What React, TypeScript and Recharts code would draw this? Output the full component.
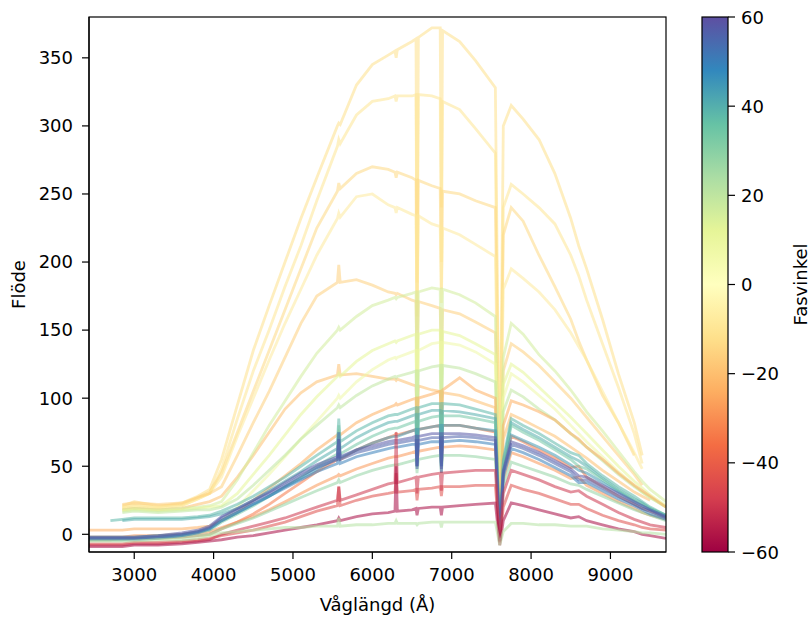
import { Label, Line, LineChart, XAxis, YAxis } from "recharts";

// wavelength grid (Å) shared by every spectrum
const WAVELENGTHS = [
  2430, 2700, 2850, 3000, 3300, 3600, 3800, 3950, 4100, 4300,
  4500, 4700, 4900, 5100, 5300, 5560, 5577, 5595, 5800, 6000,
  6200, 6285, 6300, 6315, 6500, 6550, 6563, 6580, 6750, 6855,
  6870, 6885, 7100, 7300, 7550, 7605, 7650, 7750, 7900, 8100,
  8300, 8500, 8600, 8700, 8900, 9100, 9300, 9400, 9500, 9700,
];

// flux per spectrum
const Y1 = [null, null, 20, 22, 20, 23, 28, 33, 55, 95, 135, 168, 200, 232, 262, 300, 302, 301, 330, 345, 352, 355, 350, 356, 362, 364, 185, 365, 372, 372, 240, 370, 362, 348, 328, 20, 300, 315, 305, 290, 265, 232, 212, 195, 158, 118, 82, 58, null, null];
const Y2 = [null, null, 19, 20, 19, 21, 26, 30, 48, 85, 120, 150, 182, 212, 245, 285, 290, 287, 308, 318, 320, 322, 318, 322, 322, 323, 170, 323, 322, 320, 200, 318, 312, 298, 280, 18, 240, 257, 250, 240, 228, 205, 190, 172, 140, 108, 74, 52, null, null];
const Y3 = [null, null, 21, 24, 21, 22, 27, 31, 45, 75, 105, 135, 165, 195, 225, 252, 258, 254, 265, 270, 268, 266, 262, 266, 262, 260, 160, 260, 256, 254, 180, 252, 250, 245, 240, 15, 220, 240, 230, 205, 182, 158, 142, 128, 102, 82, 58, null, null, null];
const Y4 = [null, null, 20, 21, 20, 21, 26, 30, 42, 72, 100, 128, 155, 180, 205, 232, 236, 233, 248, 250, 242, 240, 236, 240, 235, 234, 150, 234, 228, 226, 170, 225, 220, 213, 204, 14, 180, 195, 188, 178, 165, 148, 138, 128, 105, 82, 60, 48, null, null];
const Y5 = [null, null, 22, 23, 22, 23, 27, 30, 35, 58, 82, 105, 130, 155, 175, 185, 198, 185, 187, 183, 178, 177, 176, 177, 172, 171, 120, 171, 168, 166, 125, 165, 162, 156, 148, 12, 120, 140, 134, 124, 112, 100, 93, 86, 72, 58, 44, 36, null, null];
const Y6 = [null, null, 18, 19, 18, 19, 22, 24, 28, 42, 58, 75, 92, 104, 112, 117, 125, 117, 118, 116, 114, 114, 113, 114, 110, 109, 85, 109, 106, 105, 88, 104, 102, 98, 93, 10, 70, 88, 84, 78, 72, 64, 60, 56, 47, 39, 31, 28, 25, null];
const G1 = [null, null, 18, 19, 18, 19, 20, 21, 24, 40, 60, 80, 98, 116, 133, 150, 152, 150, 160, 168, 172, 174, 173, 174, 177, 178, 95, 178, 181, 180, 100, 180, 176, 170, 160, 10, 130, 155, 147, 132, 120, 106, 98, 90, 76, 61, 46, 39, 33, 24];
const G2 = [null, null, 17, 18, 17, 18, 19, 20, 21, 30, 44, 58, 73, 88, 101, 116, 118, 116, 127, 135, 140, 142, 141, 142, 146, 147, 80, 147, 150, 150, 90, 149, 146, 140, 132, 8, 110, 125, 119, 108, 97, 86, 80, 74, 62, 50, 39, 34, 29, 21];
const G3 = [-2, -2, -2, -2, -1, 0, 2, 5, 10, 20, 32, 44, 57, 70, 83, 100, 102, 100, 112, 121, 128, 130, 129, 130, 134, 135, 90, 135, 140, 141, 95, 141, 139, 134, 125, 8, 100, 118, 112, 102, 92, 80, 74, 68, 57, 46, 36, 31, 27, 20];
const G4 = [null, null, 16, 17, 16, 17, 18, 18, 20, 26, 36, 47, 58, 70, 80, 93, 95, 93, 102, 109, 114, 116, 115, 116, 119, 120, 70, 120, 123, 124, 75, 124, 122, 118, 112, 6, 90, 106, 101, 92, 84, 74, 69, 64, 54, 44, 35, 31, 27, 20];
const O1 = [3, 3, 3, 4, 4, 4, 5, 6, 10, 16, 25, 34, 43, 52, 62, 73, 75, 73, 82, 88, 93, 95, 96, 95, 99, 100, 75, 100, 103, 105, 80, 106, 115, 106, 100, 5, 80, 98, 95, 90, 84, 74, 70, 64, 55, 45, 36, 32, 28, 20];
const O2 = [-4, -4, -3, -3, -3, -2, -1, 0, 4, 9, 15, 22, 30, 38, 46, 55, 57, 55, 62, 67, 71, 73, 74, 73, 76, 77, 60, 77, 79, 80, 62, 80, 80, 78, 75, 0, 50, 72, 68, 62, 56, 49, 50, 42, 35, 28, 22, 19, 17, 13];
const O3 = [-2, -2, -2, -1, -1, 0, 1, 2, 5, 9, 13, 18, 24, 30, 36, 43, 44, 43, 48, 52, 56, 57, 57, 57, 60, 61, 50, 61, 63, 64, 52, 64, 65, 64, 62, -2, 40, 60, 57, 52, 47, 41, 42, 36, 30, 24, 19, 16, 14, 11];
const T1 = [null, 10, 11, 12, 12, 12, 13, 14, 17, 22, 28, 35, 42, 50, 58, 68, 85, 68, 76, 82, 87, 88, 88, 88, 92, 93, 55, 93, 96, 96, 55, 96, 95, 92, 88, -3, 55, 85, 80, 74, 67, 60, 58, 52, 43, 35, 28, 24, 20, 14];
const T2 = [-3, -3, -3, -3, -2, -1, 1, 3, 9, 15, 21, 28, 35, 42, 50, 59, 80, 59, 66, 72, 77, 78, 78, 78, 82, 83, 60, 83, 86, 87, 60, 87, 87, 85, 82, -3, 50, 80, 75, 69, 62, 55, 50, 48, 40, 32, 25, 22, 19, 14];
const T3 = [-2, -2, -2, -2, -1, 0, 2, 4, 10, 16, 22, 28, 35, 41, 48, 56, 70, 56, 62, 67, 71, 72, 72, 72, 76, 77, 50, 77, 79, 80, 50, 80, 80, 78, 76, -4, 45, 73, 69, 64, 58, 51, 47, 45, 38, 31, 24, 21, 18, 13];
const T4 = [null, null, 10, 11, 11, 11, 12, 13, 15, 19, 25, 32, 39, 46, 54, 63, 75, 63, 71, 77, 82, 83, 83, 83, 87, 88, 58, 88, 91, 91, 58, 91, 90, 88, 85, -3, 52, 82, 77, 71, 64, 57, 54, 50, 41, 33, 26, 23, 19, 14];
const C1 = [-4, -4, -4, -3, -3, -2, -1, 0, 4, 8, 12, 17, 22, 27, 32, 38, 40, 38, 43, 47, 50, 51, 51, 51, 54, 55, 45, 55, 57, 58, 45, 58, 58, 57, 55, -3, 35, 53, 50, 46, 42, 37, 36, 33, 28, 23, 18, 16, 14, 10];
const B1 = [-3, -3, -3, -3, -2, 0, 2, 5, 12, 18, 24, 30, 36, 43, 49, 55, 75, 55, 60, 63, 66, 67, 67, 67, 69, 69, 48, 69, 71, 71, 45, 71, 72, 71, 69, -5, 45, 66, 63, 58, 52, 46, 40, 40, 34, 28, 22, 19, 17, 12];
const B2 = [-4, -4, -4, -4, -3, -1, 1, 4, 10, 16, 22, 28, 34, 40, 46, 52, 60, 52, 57, 60, 63, 64, 64, 64, 66, 66, 50, 66, 68, 68, 50, 68, 69, 68, 66, -5, 42, 63, 60, 55, 49, 43, 38, 38, 32, 26, 21, 18, 15, 11];
const B3 = [-2, -2, -2, -2, -1, 1, 3, 6, 13, 19, 25, 31, 38, 45, 51, 57, 70, 57, 62, 65, 68, 69, 69, 69, 71, 72, 50, 72, 74, 74, 48, 74, 74, 73, 71, -4, 47, 68, 65, 60, 54, 48, 43, 42, 36, 30, 24, 21, 18, 13];
const R1 = [-8, -8, -8, -7, -7, -6, -5, -4, 0, 3, 6, 9, 12, 16, 20, 25, 35, 25, 29, 33, 37, 38, 75, 38, 41, 42, 30, 42, 44, 45, 32, 45, 46, 47, 47, -5, 30, 47, 44, 40, 35, 31, 32, 28, 22, 16, 11, 9, 7, 5];
const R2 = [-7, -7, -7, -6, -6, -5, -4, -3, -1, 1, 3, 6, 9, 13, 17, 21, 35, 21, 25, 28, 30, 31, 45, 31, 32, 33, 25, 33, 34, 35, 28, 35, 35, 36, 36, -6, 20, 36, 33, 30, 26, 22, 22, 19, 14, 10, 7, 5, 4, 3];
const R3 = [-9, -9, -9, -8, -8, -7, -6, -5, -4, -2, -1, 1, 3, 5, 7, 10, 12, 10, 13, 15, 16, 17, 50, 17, 18, 19, 14, 19, 20, 20, 14, 20, 21, 22, 23, -8, 10, 23, 21, 18, 15, 12, 13, 10, 7, 4, 2, 0, -1, -3];
const L1 = [-5, -5, -5, -5, -4, -4, -3, -1, 1, 2, 3, 4, 5, 5, 6, 6, 12, 6, 7, 7, 8, 8, 10, 8, 8, 8, 7, 8, 9, 9, 5, 9, 9, 9, 9, -8, 2, 8, 8, 7, 7, 6, 6, 6, 4, 3, 2, 1, 1, 0];

const SPECTRA = [Y1, Y2, Y3, Y4, Y5, Y6, G1, G2, G3, G4, O1, O3, O2, C1, T1, T4, T2, T3, B2, B1, B3, R2, R1, R3, L1];
// phase angle (Fasvinkel) of each spectrum, same order
const PHASES = [-12, -10, -14, -8, -16, -20, 16, 12, 8, 20, -24, -28, -34, 28, 38, 40, 34, 44, 50, 56, 58, -44, -50, -58, 22];

const X_TICKS = [3000, 4000, 5000, 6000, 7000, 8000, 9000];
const Y_TICKS = [0, 50, 100, 150, 200, 250, 300, 350];
const CB_TICKS = [60, 40, 20, 0, -20, -40, -60];

// matplotlib "Spectral"
const SPECTRAL = ["#9e0142", "#d53e4f", "#f46d43", "#fdae61", "#fee08b", "#ffffbf", "#e6f598", "#abdda4", "#66c2a5", "#3288bd", "#5e4fa2"];

function spectral(phase: number) {
  const t = Math.min(1, Math.max(0, (phase + 60) / 120)) * 10;
  const i = Math.min(9, Math.floor(t));
  const f = t - i;
  const a = SPECTRAL[i], b = SPECTRAL[i + 1];
  const ch = (c: string, k: number) => parseInt(c.slice(1 + k * 2, 3 + k * 2), 16);
  const mix = [0, 1, 2].map((k) => Math.round(ch(a, k) + (ch(b, k) - ch(a, k)) * f));
  return `rgb(${mix.join(",")})`;
}

const FONT = "'DejaVu Sans', sans-serif";
const LEFT = 89, TOP = 17, RIGHT = 666, BOTTOM = 552;

function Overlay() {
  const x = 702, w = 26, h = BOTTOM - TOP;
  return (
    <svg width={811} height={617} style={{ position: "absolute", left: 0, top: 0, pointerEvents: "none" }}>
      <defs>
        <linearGradient id="cb" x1="0" y1="1" x2="0" y2="0">
          {SPECTRAL.map((c, i) => (
            <stop key={i} offset={`${i * 10}%`} stopColor={c} />
          ))}
        </linearGradient>
      </defs>
      {/* axes frame */}
      <rect x={LEFT} y={TOP} width={RIGHT - LEFT} height={h} fill="none" stroke="#000" strokeWidth={1.2} />
      <rect x={x} y={TOP} width={w} height={h} fill="url(#cb)" stroke="#000" strokeWidth={1.2} />
      {CB_TICKS.map((v) => {
        const y = TOP + ((60 - v) / 120) * h;
        return (
          <g key={v}>
            <line x1={x + w} x2={x + w + 7} y1={y} y2={y} stroke="#000" strokeWidth={1.2} />
            <text x={x + w + 13} y={y} dominantBaseline="central" fontSize={18} fontFamily={FONT} fill="#000">
              {v < 0 ? `\u2212${-v}` : v}
            </text>
          </g>
        );
      })}
      <text x={800} y={(TOP + BOTTOM) / 2} transform={`rotate(-90 800 ${(TOP + BOTTOM) / 2})`} textAnchor="middle" dominantBaseline="central" fontSize={18} fontFamily={FONT} fill="#000">
        Fasvinkel
      </text>
    </svg>
  );
}

export default function App() {
  const rows = WAVELENGTHS.map((wl, i) => {
    const row: Record<string, number | null> = { wl };
    SPECTRA.forEach((s, j) => {
      row[`s${j}`] = s[i];
    });
    return row;
  });
  const tickStyle = { fill: "#000", fontSize: 18, fontFamily: FONT };
  return (
    <div style={{ position: "absolute", left: 0, top: 0, width: 811, height: 617, background: "#fff", fontFamily: FONT }}>
      <LineChart width={680} height={617} data={rows} margin={{ top: TOP, right: 680 - RIGHT, bottom: 0, left: 0 }}>
        <XAxis
          dataKey="wl"
          type="number"
          domain={[2430, 9700]}
          ticks={X_TICKS}
          allowDataOverflow
          height={617 - BOTTOM}
          tick={tickStyle}
          tickSize={7}
          tickMargin={9}
          tickLine={{ stroke: "#000", strokeWidth: 1.2 }}
          axisLine={{ stroke: "#000", strokeWidth: 1.2 }}
        >
          <Label value="Våglängd (Å)" position="insideBottom" offset={6} style={{ fill: "#000", fontSize: 18, fontFamily: FONT }} />
        </XAxis>
        <YAxis
          type="number"
          domain={[-13, 380]}
          ticks={Y_TICKS}
          allowDataOverflow
          width={LEFT}
          tick={tickStyle}
          tickSize={7}
          tickMargin={9}
          tickLine={{ stroke: "#000", strokeWidth: 1.2 }}
          axisLine={{ stroke: "#000", strokeWidth: 1.2 }}
        >
          <Label value="Flöde" angle={-90} position="insideLeft" offset={19} style={{ fill: "#000", fontSize: 18, fontFamily: FONT, textAnchor: "middle" }} />
        </YAxis>
        {SPECTRA.map((_, j) => (
          <Line
            key={j}
            dataKey={`s${j}`}
            type="linear"
            stroke={spectral(PHASES[j])}
            strokeOpacity={0.55}
            strokeWidth={2.8}
            dot={false}
            activeDot={false}
            isAnimationActive={false}
          />
        ))}
      </LineChart>
      <Overlay />
    </div>
  );
}
